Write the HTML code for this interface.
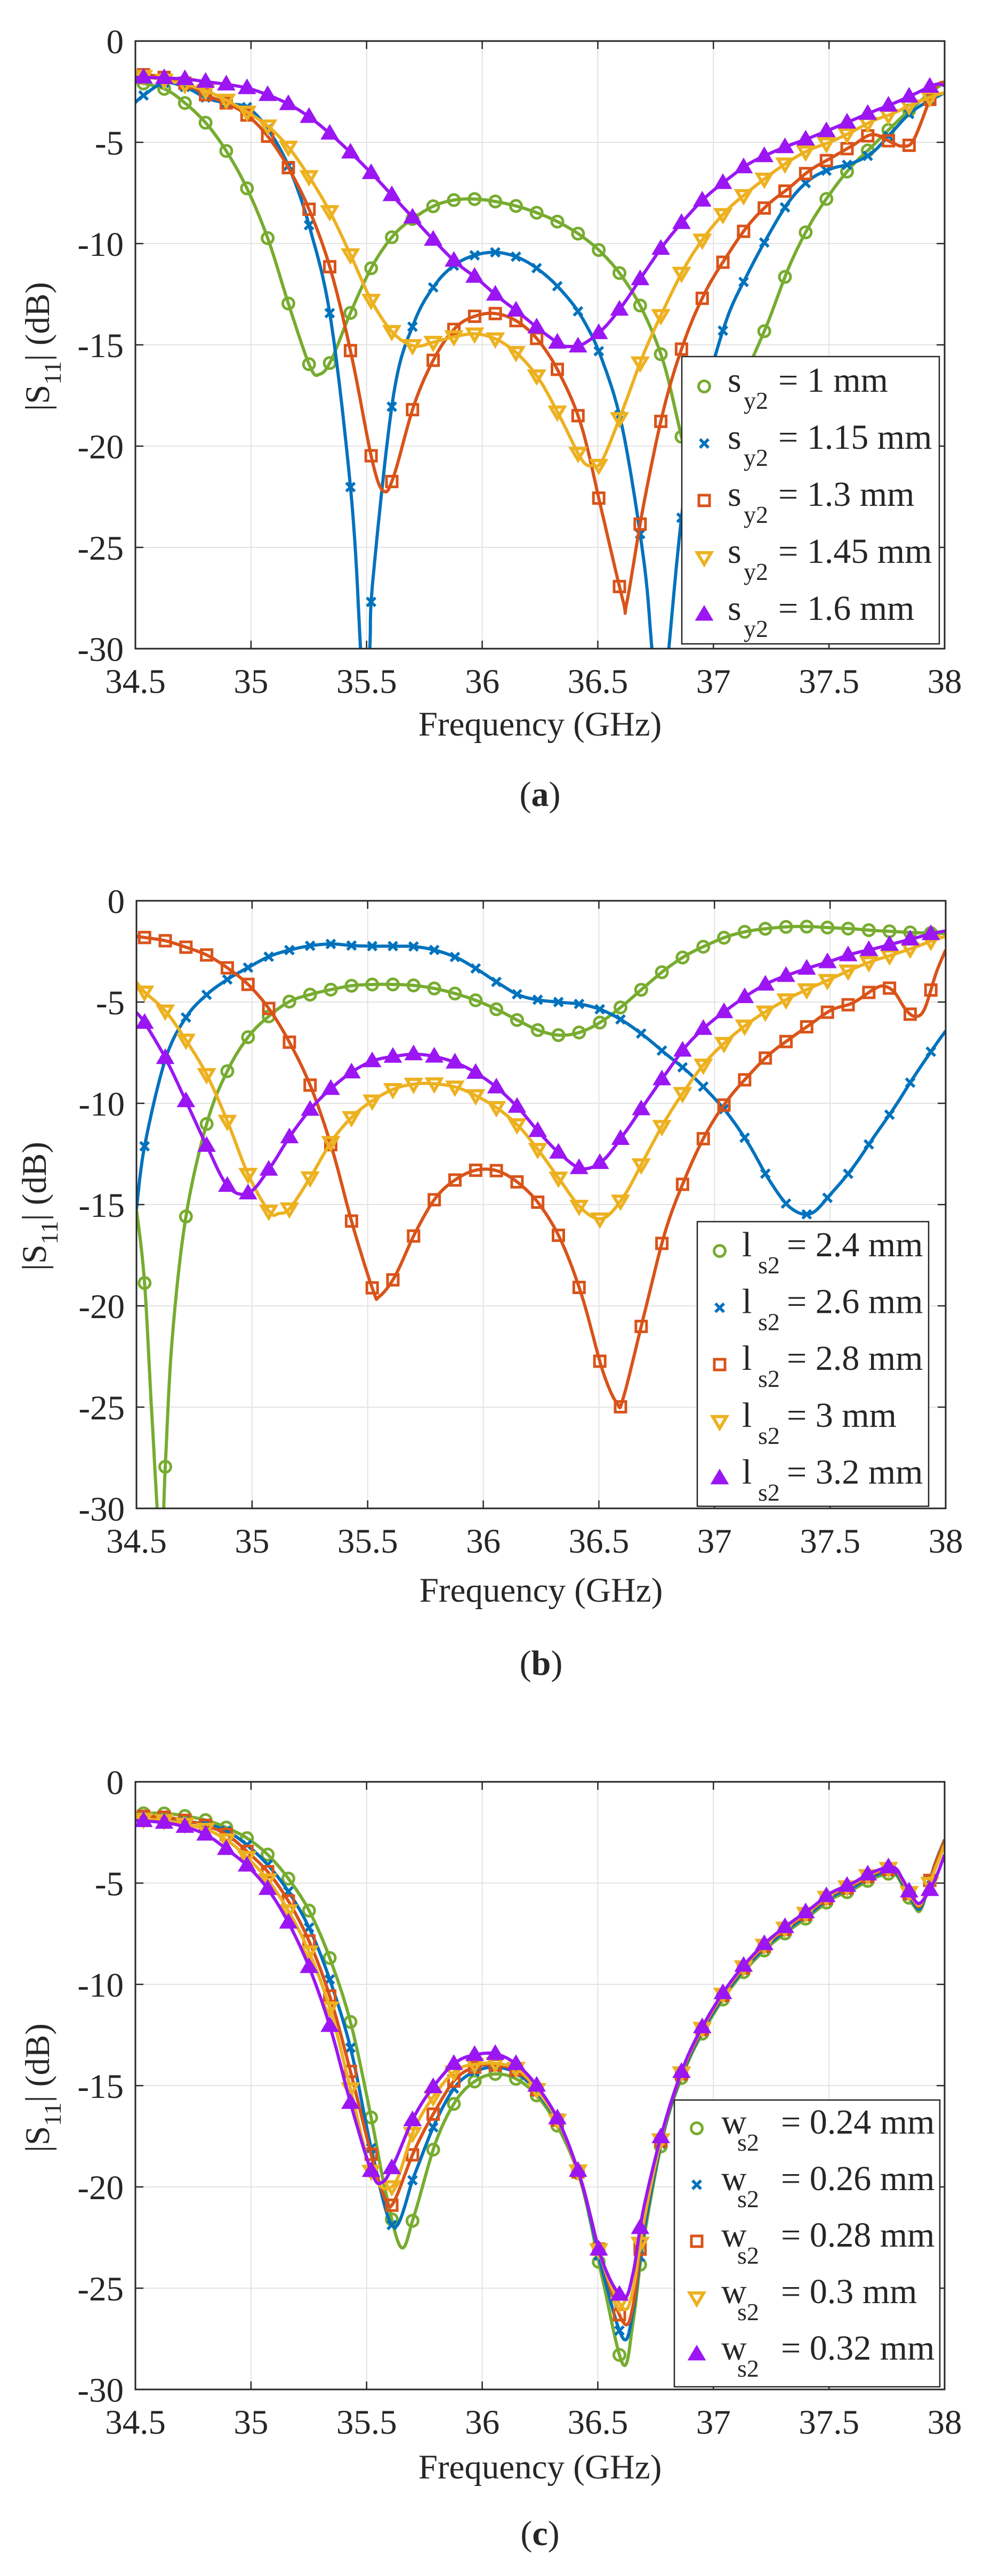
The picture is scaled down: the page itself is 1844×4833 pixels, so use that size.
<!DOCTYPE html>
<html><head><meta charset="utf-8">
<style>
html,body{margin:0;padding:0;background:#fff;}
svg{display:block;}
text{font-family:"Liberation Serif",serif;fill:#262626;}
</style></head>
<body>
<svg id="s" width="1844" height="4833" viewBox="0 0 1844 4833" xmlns="http://www.w3.org/2000/svg"></svg>
<script>
const S=document.getElementById('s');
let out='';
const COL={g:'#77AC30',b:'#0072BD',r:'#D95319',y:'#EDB120',p:'#9B16F2'};
function cr(pts,n){
  const res=[];
  for(let i=0;i<pts.length-1;i++){
    const p0=pts[Math.max(0,i-1)],p1=pts[i],p2=pts[i+1],p3=pts[Math.min(pts.length-1,i+2)];
    for(let k=0;k<n;k++){
      const t=k/n,t2=t*t,t3=t2*t;
      const f=(a,b,c,d)=>0.5*((2*b)+(-a+c)*t+(2*a-5*b+4*c-d)*t2+(-a+3*b-3*c+d)*t3);
      res.push([f(p0[0],p1[0],p2[0],p3[0]),f(p0[1],p1[1],p2[1],p3[1])]);
    }
  }
  res.push(pts[pts.length-1]);
  return res;
}
function yAt(d,x){
  for(let i=0;i<d.length-1;i++){
    if((d[i][0]<=x&&d[i+1][0]>=x)){const t=(x-d[i][0])/((d[i+1][0]-d[i][0])||1);return d[i][1]+t*(d[i+1][1]-d[i][1]);}
  }
  return d[d.length-1][1];
}
function r1(v){return Math.round(v*10)/10;}
function marker(type,x,y,c){
  x=+x;y=+y;
  const sw=5;
  if(type==='o') return `<circle cx="${r1(x)}" cy="${r1(y)}" r="10.5" fill="none" stroke="${c}" stroke-width="${sw}"/>`;
  if(type==='x') return `<path d="M${r1(x-8)} ${r1(y-8)}L${r1(x+8)} ${r1(y+8)}M${r1(x-8)} ${r1(y+8)}L${r1(x+8)} ${r1(y-8)}" stroke="${c}" stroke-width="${sw+0.5}"/>`;
  if(type==='s') return `<rect x="${r1(x-10)}" y="${r1(y-10)}" width="20" height="20" fill="none" stroke="${c}" stroke-width="${sw}"/>`;
  if(type==='v') return `<path d="M${r1(x-13)} ${r1(y-9)}L${r1(x+13)} ${r1(y-9)}L${r1(x)} ${r1(y+13)}Z" fill="none" stroke="${c}" stroke-width="${sw+1}"/>`;
  if(type==='^') return `<path d="M${r1(x-13)} ${r1(y+9)}L${r1(x+13)} ${r1(y+9)}L${r1(x)} ${r1(y-13)}Z" fill="${c}" stroke="${c}" stroke-width="${sw}"/>`;
}
function plot(cfg){
  const {L,T,W,H,pb,series,leg,legText,legSym,ylabY,ylabX,freqY,capY,cap,id}=cfg;
  const R=L+W,B=T+H;
  const mx=px=>L+(px-pb[0])*W/(pb[2]-pb[0]);
  const my=py=>T+(py-pb[1])*H/(pb[3]-pb[1]);
  let g='';
  for(let i=1;i<7;i++){const x=L+i*W/7;g+=`<line x1="${x}" y1="${T}" x2="${x}" y2="${B}" stroke="#e3e3e3" stroke-width="2"/>`;}
  for(let i=1;i<6;i++){const y=T+i*H/6;g+=`<line x1="${L}" y1="${y}" x2="${R}" y2="${y}" stroke="#e3e3e3" stroke-width="2"/>`;}
  out+=g;
  out+=`<clipPath id="c${id}"><rect x="${L}" y="${T}" width="${W}" height="${H}"/></clipPath><g clip-path="url(#c${id})">`;
  series.forEach(s=>{
    const pts=s.pts.map(p=>[mx(p[0]),my(p[1])]);
    const d=cr(pts,16);
    out+=`<path d="M${d.map(p=>p[0].toFixed(1)+' '+p[1].toFixed(1)).join('L')}" fill="none" stroke="${COL[s.c]}" stroke-width="6" stroke-linejoin="round"/>`;
    const step=W/7*0.0895/0.5;
    for(let x=L+W*0.035/3.5;x<=R+1;x+=step){
      const y=yAt(d,x);
      if(y<B+15) out+=marker(s.m,x,y,COL[s.c]);
    }
  });
  out+='</g>';
  out+=`<rect x="${L}" y="${T}" width="${W}" height="${H}" fill="none" stroke="#262626" stroke-width="3"/>`;
  const xl=['34.5','35','35.5','36','36.5','37','37.5','38'];
  xl.forEach((t,i)=>{const x=L+i*W/7;
    out+=`<line x1="${x}" y1="${B}" x2="${x}" y2="${B-15}" stroke="#262626" stroke-width="2.5"/><line x1="${x}" y1="${T}" x2="${x}" y2="${T+15}" stroke="#262626" stroke-width="2.5"/>`;
    out+=`<text x="${x}" y="${B+83}" font-size="65" text-anchor="middle">${t}</text>`;});
  const yl=['0','-5','-10','-15','-20','-25','-30'];
  yl.forEach((t,i)=>{const y=T+i*H/6;
    out+=`<line x1="${L}" y1="${y}" x2="${L+15}" y2="${y}" stroke="#262626" stroke-width="2.5"/><line x1="${R}" y1="${y}" x2="${R-15}" y2="${y}" stroke="#262626" stroke-width="2.5"/>`;
    out+=`<text x="${L-22}" y="${y+23}" font-size="65" text-anchor="end">${t}</text>`;});
  out+=`<text transform="translate(${ylabX},${ylabY}) rotate(-90)" font-size="65" text-anchor="middle">|S<tspan font-size="46" dy="22">11</tspan><tspan dy="-22">| (dB)</tspan></text>`;
  out+=`<text x="${(L+R)/2}" y="${freqY}" font-size="65" text-anchor="middle">Frequency (GHz)</text>`;
  out+=`<text x="${(L+R)/2}" y="${capY}" font-size="66" text-anchor="middle">(<tspan font-weight="bold">${cap}</tspan>)</text>`;
  const [lx1,ly1,lx2,ly2,first,sp,symX,eqX]=leg;
  out+=`<rect x="${lx1}" y="${ly1}" width="${lx2-lx1}" height="${ly2-ly1}" fill="#fff" stroke="#262626" stroke-width="2.5"/>`;
  series.forEach((s,i)=>{
    const cy=first+i*sp;
    out+=marker(s.m,lx1+42,cy,COL[s.c]);
    out+=`<text x="${symX}" y="${cy+10}" font-size="66">${legSym[0]}</text>`;
    out+=`<text x="${symX+30}" y="${cy+42}" font-size="46">${legSym[1]}</text>`;
    out+=`<text x="${eqX}" y="${cy+10}" font-size="66">= ${legText[i]}</text>`;
  });
}
plot({id:'a',L:254,T:77,W:1518,H:1140,pb:[216,75,1507,1193],cap:'a',ylabX:92,ylabY:650,freqY:1380,capY:1512,
 legSym:['s','y2'],legText:['1 mm','1.15 mm','1.3 mm','1.45 mm','1.6 mm'],
 leg:[1279,669,1762,1208,725,107,1365,1460],
 series:[
 {c:'g',m:'o',pts:[[216,150],[262,163],[296,190],[330,228],[363,281],[396,351],[429,444],[462,565],[495,675],[510,688],[528,663],[561,570],[594,489],[628,432],[661,400],[695,377],[728,367],[761,366],[794,371],[828,380],[861,393],[894,410],[928,434],[961,466],[994,511],[1027,575],[1060,672],[1093,828],[1115,880],[1140,845],[1170,740],[1200,660],[1226,590],[1259,490],[1292,413],[1326,353],[1359,305],[1392,268],[1425,230],[1458,195],[1507,150]]},
 {c:'b',m:'x',pts:[[216,188],[229,175],[262,152],[296,160],[330,180],[363,190],[396,198],[429,240],[462,310],[495,422],[528,590],[561,920],[575,1190],[582,1350],[590,1190],[595,1065],[628,725],[661,592],[695,522],[728,485],[761,468],[794,464],[828,474],[861,497],[894,532],[928,583],[961,663],[994,793],[1027,1030],[1040,1193],[1054,1380],[1067,1193],[1093,900],[1126,720],[1160,585],[1193,503],[1226,432],[1259,370],[1292,330],[1326,310],[1359,300],[1392,280],[1425,240],[1458,202],[1507,170]]},
 {c:'r',m:'s',pts:[[216,145],[229,137],[262,142],[296,153],[330,175],[363,190],[396,213],[429,253],[462,312],[495,390],[528,498],[561,655],[594,848],[612,903],[628,876],[661,743],[695,654],[728,601],[761,580],[794,577],[828,593],[861,629],[894,690],[928,785],[961,945],[994,1105],[1000,1108],[1027,927],[1060,747],[1093,623],[1126,535],[1160,470],[1193,415],[1226,375],[1259,345],[1292,313],[1326,290],[1359,268],[1392,247],[1425,263],[1440,268],[1458,256],[1490,165],[1507,150]]},
 {c:'y',m:'v',pts:[[216,140],[229,140],[262,147],[296,155],[330,167],[363,185],[396,207],[429,233],[462,273],[495,328],[528,393],[561,473],[594,556],[628,613],[661,636],[695,628],[728,618],[761,614],[794,625],[828,653],[861,699],[894,768],[928,845],[945,856],[961,846],[994,752],[1027,650],[1060,566],[1093,490],[1126,432],[1160,386],[1193,353],[1226,323],[1259,296],[1292,275],[1326,260],[1359,242],[1392,222],[1425,208],[1458,190],[1492,175],[1507,170]]},
 {c:'p',m:'^',pts:[[216,142],[229,142],[262,143],[296,145],[330,150],[363,155],[396,162],[429,175],[462,192],[495,216],[528,247],[561,282],[594,320],[628,362],[661,403],[695,445],[728,483],[761,512],[794,545],[828,575],[861,606],[894,633],[910,637],[928,634],[961,606],[994,560],[1027,503],[1060,448],[1093,402],[1126,362],[1160,330],[1193,302],[1226,283],[1259,267],[1292,253],[1326,237],[1359,221],[1392,205],[1425,190],[1458,173],[1492,155],[1507,157]]}
 ]});
plot({id:'b',L:256,T:1690,W:1518,H:1140,pb:[218,89,1509,1214],cap:'b',ylabX:86,ylabY:2263,freqY:3005,capY:3142,
 legSym:['l','s2'],legText:['2.4 mm','2.6 mm','2.8 mm','3 mm','3.2 mm'],
 leg:[1308,2292,1742,2826,2347,106.6,1392,1476],
 series:[
 {c:'g',m:'o',pts:[[218,660],[231,798],[243,1050],[257,1300],[264,1135],[275,900],[297,673],[331,498],[364,402],[397,340],[430,302],[463,275],[497,262],[530,253],[563,246],[596,244],[630,244],[663,246],[696,252],[730,262],[763,275],[796,292],[829,312],[862,330],[896,338],[929,331],[962,311],[995,282],[1029,248],[1062,216],[1095,190],[1128,171],[1161,155],[1195,145],[1228,140],[1261,137],[1294,137],[1327,139],[1361,141],[1394,144],[1427,146],[1460,148],[1494,149],[1509,150]]},
 {c:'b',m:'x',pts:[[218,660],[231,543],[264,383],[297,305],[331,262],[364,234],[397,212],[430,192],[463,180],[497,172],[530,169],[563,172],[596,173],[630,173],[663,174],[696,181],[730,195],[763,217],[796,242],[829,264],[862,273],[896,277],[929,281],[962,292],[995,312],[1029,340],[1062,372],[1095,403],[1128,440],[1161,483],[1195,540],[1228,607],[1261,657],[1294,668],[1327,630],[1361,583],[1394,527],[1427,472],[1460,412],[1494,354],[1509,330]]},
 {c:'r',m:'s',pts:[[218,155],[231,157],[264,163],[297,175],[331,190],[364,214],[397,245],[430,290],[463,353],[497,436],[530,548],[563,690],[596,812],[605,822],[630,785],[663,703],[696,638],[730,603],[763,587],[796,590],[829,613],[862,653],[896,720],[929,822],[962,960],[985,1020],[995,1008],[1029,850],[1062,700],[1095,598],[1128,517],[1161,458],[1195,412],[1228,373],[1261,344],[1294,317],[1327,291],[1361,278],[1394,253],[1410,247],[1427,258],[1445,290],[1460,303],[1475,290],[1494,222],[1509,180]]},
 {c:'y',m:'v',pts:[[218,240],[231,258],[264,293],[297,347],[331,413],[364,500],[397,598],[430,665],[445,668],[463,658],[497,598],[530,533],[563,488],[596,458],[630,437],[663,428],[696,428],[730,435],[763,452],[796,475],[829,508],[862,555],[896,610],[929,660],[962,677],[995,637],[1029,565],[1062,495],[1095,436],[1128,385],[1161,347],[1195,315],[1228,290],[1261,268],[1294,250],[1327,233],[1361,215],[1394,200],[1427,188],[1460,175],[1494,160],[1509,155]]},
 {c:'p',m:'^',pts:[[218,296],[231,315],[264,380],[297,460],[331,545],[364,618],[397,630],[430,585],[463,525],[497,473],[530,435],[563,405],[596,385],[630,377],[663,373],[696,378],[730,390],[763,410],[796,438],[829,475],[862,520],[896,560],[929,585],[962,570],[995,522],[1029,465],[1062,410],[1095,358],[1128,320],[1161,290],[1195,262],[1228,240],[1261,225],[1294,212],[1327,200],[1361,187],[1394,178],[1427,168],[1460,158],[1494,148],[1509,145]]}
 ]});
const tailC=[[1060,740],[1093,627],[1126,550],[1160,488],[1193,440],[1226,402],[1259,372],[1292,345],[1326,315],[1359,298],[1392,277],[1425,268],[1440,290],[1458,327],[1470,332],[1490,265],[1507,215]];
const tailOff=(dy,end)=>tailC.map((p,i)=>[p[0],p[1]+dy+(i>=tailC.length-2?end:0)]);
plot({id:'c',L:254,T:3343,W:1518,H:1140,pb:[216,107,1507,1224],cap:'c',ylabX:92,ylabY:3917,freqY:4650,capY:4775,
 legSym:['w','s2'],legText:['0.24 mm','0.26 mm','0.28 mm','0.3 mm','0.32 mm'],
 leg:[1265,3940,1763,4478,3993,106,1353,1465],
 series:[
 {c:'g',m:'o',pts:[[216,165],[262,165],[296,170],[330,178],[363,192],[396,212],[429,243],[462,288],[495,348],[528,437],[561,557],[594,735],[615,860],[640,963],[661,903],[695,770],[728,692],[761,655],[794,644],[828,656],[861,690],[894,750],[928,848],[961,1020],[994,1178],[1010,1100],[1027,948]].concat(tailOff(8,-10))},
 {c:'b',m:'x',pts:[[216,172],[262,175],[296,180],[330,185],[363,198],[396,225],[429,262],[462,312],[495,380],[528,477],[561,605],[594,790],[628,925],[661,830],[695,732],[728,665],[761,638],[794,632],[828,645],[861,684],[894,742],[928,845],[961,1005],[994,1130],[1010,1080],[1027,935]].concat(tailOff(4,-5))},
 {c:'r',m:'s',pts:[[216,170],[262,172],[296,178],[330,188],[363,205],[396,237],[429,275],[462,330],[495,405],[528,508],[561,648],[594,800],[615,875],[628,880],[661,785],[695,710],[728,652],[761,630],[794,628],[828,640],[861,680],[894,740],[928,845],[961,990],[994,1100],[1010,1070],[1027,920]].concat(tailOff(0,0))},
 {c:'y',m:'v',pts:[[216,175],[262,178],[296,185],[330,195],[363,215],[396,248],[429,290],[462,348],[495,425],[528,530],[561,680],[594,828],[628,848],[661,745],[695,680],[728,637],[761,626],[794,625],[828,637],[861,680],[894,740],[928,843],[961,990],[994,1075],[1010,1040],[1027,915]].concat(tailOff(-2,10))},
 {c:'p',m:'^',pts:[[216,178],[262,182],[296,190],[330,205],[363,232],[396,263],[429,307],[462,370],[495,453],[528,563],[561,705],[594,828],[610,843],[628,810],[661,722],[695,662],[728,622],[761,608],[794,608],[828,630],[861,673],[894,737],[928,843],[961,988],[994,1055],[1010,1010],[1027,890]].concat(tailOff(-4,30))}
 ]});
S.innerHTML=out;
</script>
</body></html>
